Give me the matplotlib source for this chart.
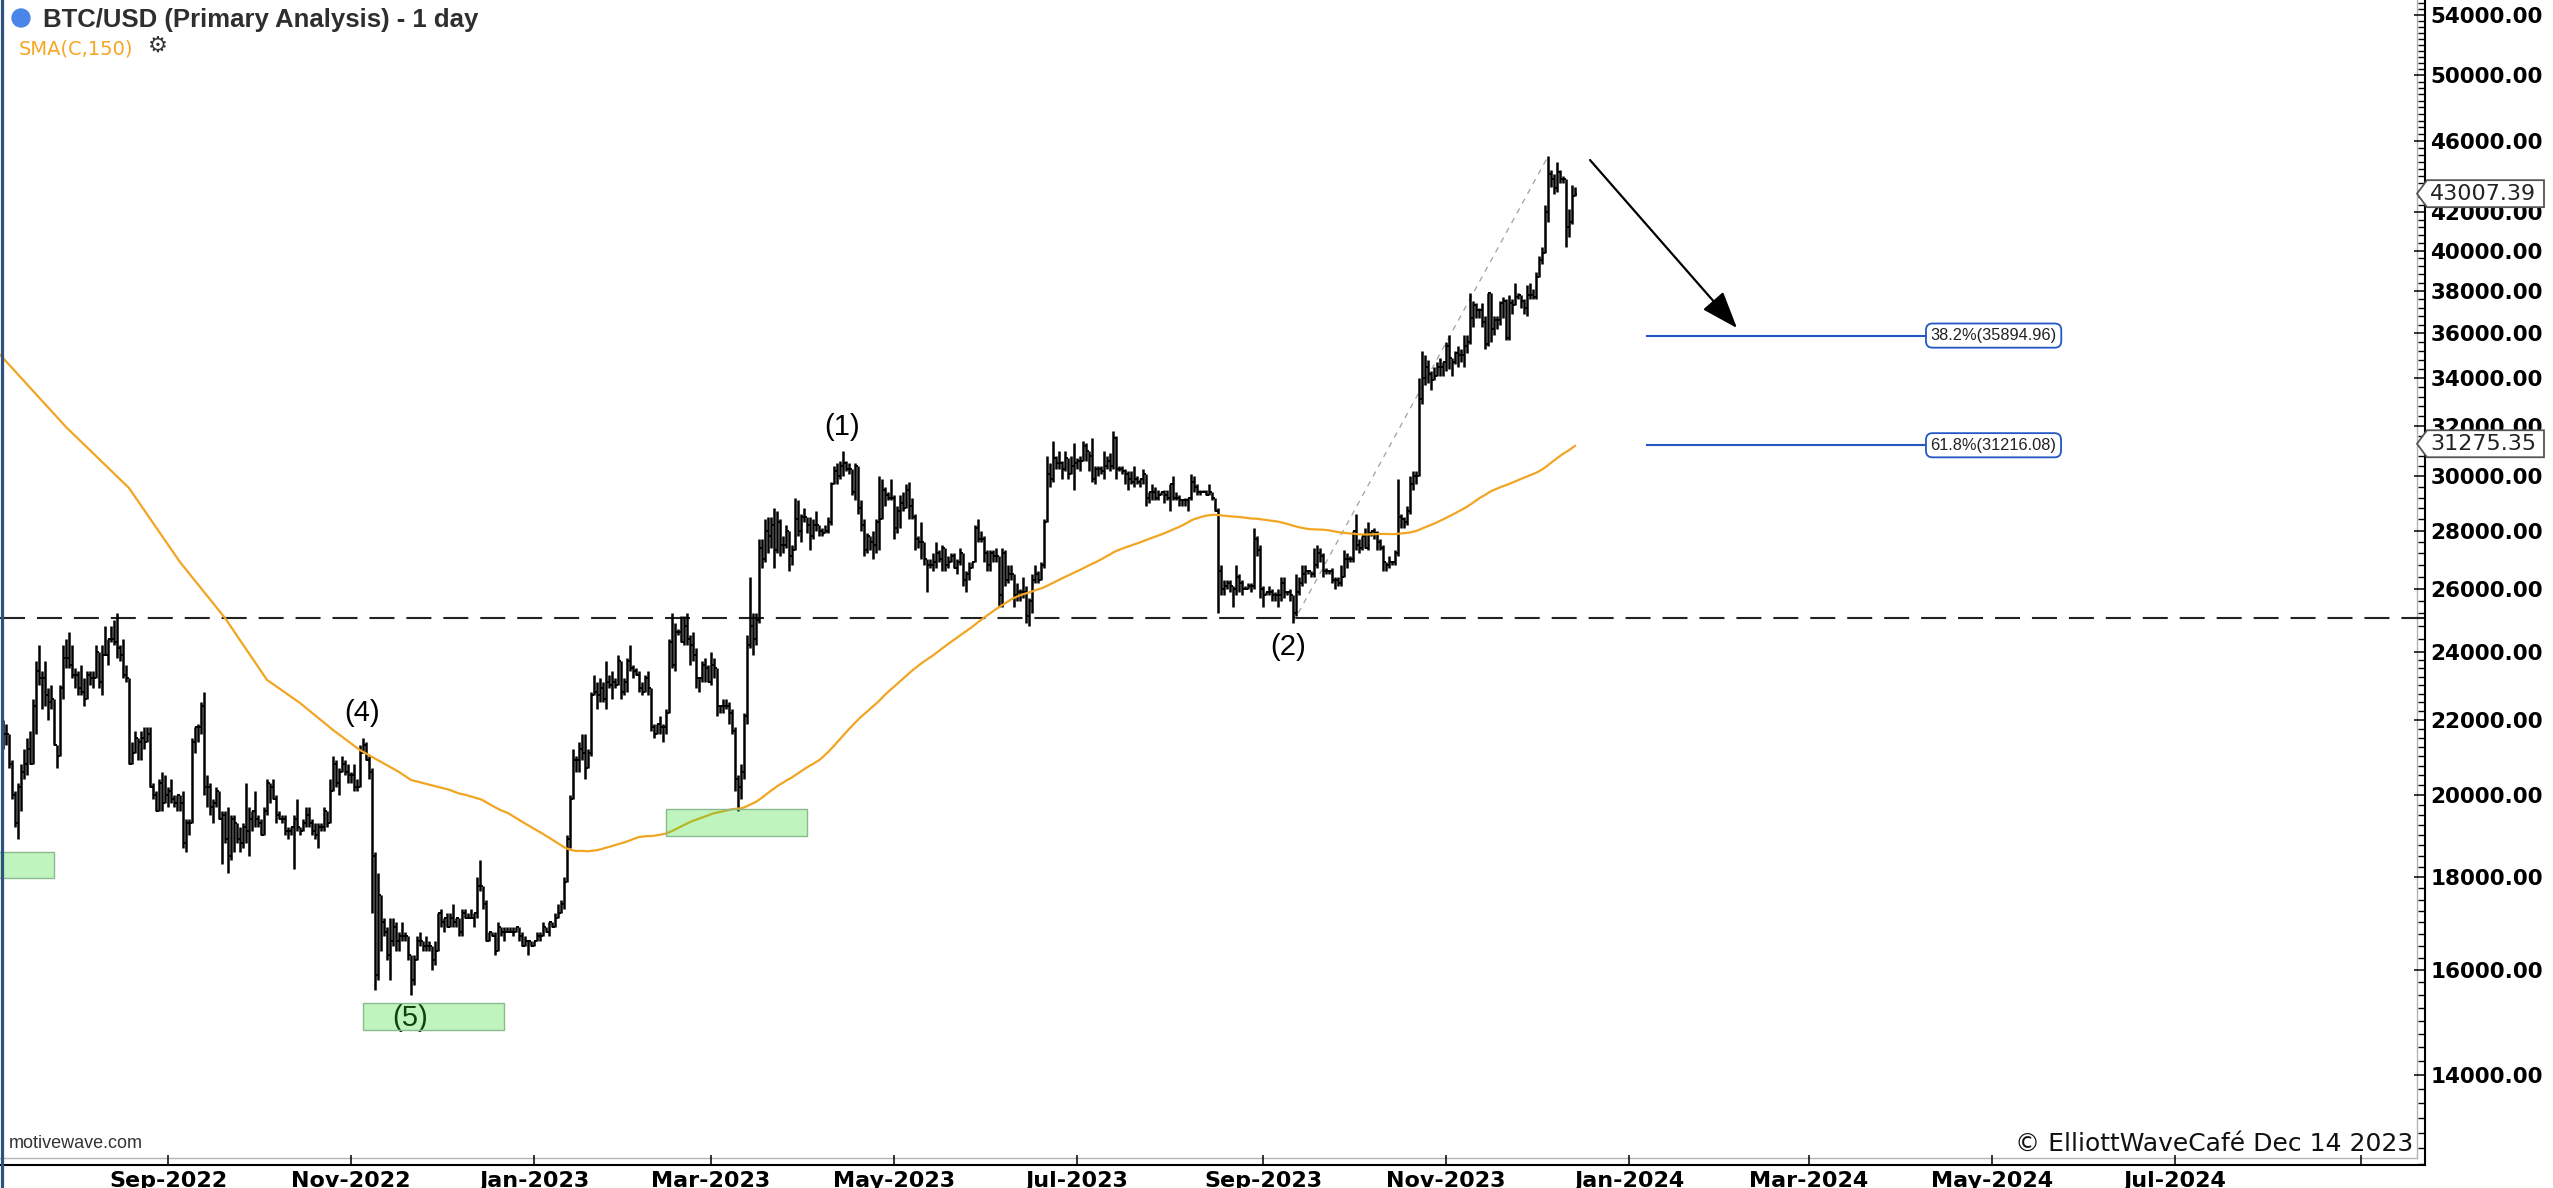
import matplotlib
matplotlib.use("Agg")
import matplotlib.pyplot as plt
import matplotlib.dates as mdates
from matplotlib.collections import LineCollection
from matplotlib.lines import Line2D
from matplotlib.patches import Rectangle, Polygon, Circle
from matplotlib.ticker import NullFormatter
from matplotlib.transforms import IdentityTransform
import numpy as np
import pandas as pd

W, H = 2553, 1188
plt.rcParams['lines.scale_dashes'] = False

# ---- daily BTC/USD bars, values in thousands of USD ----
first_day = "2022-07-08"
first_open = 21.6

close_k = [
    # Jul 2022 (from the 8th)
    21.6, 21.6, 20.8, 20.0, 19.3, 20.2, 20.6, 20.8, 21.2, 20.8, 22.4, 23.4, 23.2, 23.2, 22.7, 22.5, 22.6, 21.3, 21.0, 22.9, 23.8, 23.8, 23.6, 23.3,
    # Aug 2022
    23.3, 22.9, 22.8, 22.6, 23.3, 23.2, 23.2, 24.0, 23.1, 23.9, 23.9, 24.4, 24.4, 24.3, 24.1, 23.9, 23.3, 23.2, 20.8, 21.1, 21.5, 21.4, 21.5, 21.4, 21.6, 20.2, 20.0, 19.6, 20.3, 19.8, 20.0,
    # Sep 2022
    20.1, 19.9, 19.8, 20.0, 19.8, 18.8, 19.3, 19.3, 21.4, 21.8, 21.8, 22.4, 20.2, 20.2, 19.7, 19.8, 20.1, 19.4, 19.5, 18.9, 18.5, 19.4, 19.3, 18.9, 18.8, 19.2, 19.1, 19.4, 19.6, 19.4,
    # Oct 2022
    19.3, 19.0, 19.6, 20.3, 20.2, 19.9, 19.5, 19.4, 19.4, 19.1, 19.1, 19.2, 19.4, 19.2, 19.1, 19.3, 19.5, 19.3, 19.1, 19.0, 19.2, 19.2, 19.6, 19.3, 20.1, 20.8, 20.3, 20.6, 20.8, 20.6, 20.5,
    # Nov 2022
    20.5, 20.2, 20.2, 21.1, 21.3, 20.9, 20.6, 18.5, 15.9, 17.6, 17.0, 16.8, 16.3, 16.6, 16.9, 16.6, 16.7, 16.7, 16.7, 16.3, 15.8, 16.2, 16.6, 16.6, 16.5, 16.5, 16.5, 16.2, 16.4, 17.2,
    # Dec 2022
    17.0, 17.1, 16.9, 17.1, 17.0, 17.1, 16.8, 17.2, 17.1, 17.1, 17.1, 17.2, 17.8, 17.8, 17.4, 16.6, 16.8, 16.7, 16.4, 16.9, 16.8, 16.8, 16.8, 16.8, 16.8, 16.9, 16.7, 16.5, 16.6, 16.6, 16.5,
    # Jan 2023
    16.6, 16.7, 16.7, 16.9, 16.8, 17.0, 16.9, 17.1, 17.2, 17.4, 17.9, 18.9, 19.9, 20.9, 20.9, 21.2, 21.1, 20.7, 21.1, 22.7, 22.8, 22.7, 22.9, 22.6, 23.1, 23.0, 23.1, 23.0, 23.7, 22.8, 23.1,
    # Feb 2023
    23.7, 23.5, 23.4, 23.3, 22.9, 22.8, 23.2, 22.9, 21.8, 21.6, 21.9, 21.8, 21.8, 22.2, 24.3, 23.6, 24.6, 24.6, 24.3, 24.8, 24.4, 24.2, 23.9, 23.2, 23.2, 23.6, 23.5, 23.1,
    # Mar 2023
    23.6, 23.5, 22.4, 22.4, 22.4, 22.4, 22.2, 21.7, 20.4, 20.2, 20.6, 22.1, 24.2, 24.8, 24.4, 25.0, 27.4, 27.0, 28.0, 27.8, 28.2, 27.3, 28.3, 27.5, 27.5, 28.0, 27.1, 27.3, 28.4, 28.0, 28.5,
    # Apr 2023
    28.5, 28.2, 27.8, 28.2, 28.2, 28.0, 27.9, 28.0, 28.3, 29.7, 30.2, 30.0, 30.4, 30.5, 30.3, 30.3, 29.4, 30.4, 28.8, 28.2, 27.3, 27.8, 27.6, 27.5, 28.3, 28.4, 29.5, 29.3, 29.2, 29.2,
    # May 2023
    28.1, 28.7, 29.0, 28.8, 29.5, 28.9, 28.5, 27.7, 27.6, 27.6, 27.0, 26.8, 26.8, 26.9, 27.2, 27.0, 27.4, 26.8, 26.9, 27.1, 26.7, 26.9, 27.2, 26.3, 26.5, 26.7, 26.9, 28.1, 27.7, 27.7, 27.2,
    # Jun 2023
    26.8, 27.2, 27.1, 27.1, 25.8, 27.2, 26.3, 26.5, 26.5, 25.8, 25.9, 25.9, 25.9, 25.1, 25.6, 26.3, 26.5, 26.3, 26.8, 28.3, 30.1, 29.9, 30.7, 30.5, 30.5, 30.3, 30.7, 30.1, 30.4, 30.5,
    # Jul 2023
    30.6, 30.6, 31.2, 31.0, 30.8, 29.9, 30.3, 30.3, 30.2, 30.4, 30.6, 30.4, 31.5, 30.3, 30.3, 30.2, 30.1, 29.9, 29.8, 29.9, 29.8, 29.9, 30.1, 29.2, 29.4, 29.4, 29.2, 29.3, 29.4, 29.3, 29.2,
    # Aug 2023
    29.7, 29.2, 29.2, 29.1, 29.1, 29.1, 29.2, 29.8, 29.6, 29.4, 29.4, 29.4, 29.3, 29.4, 29.2, 28.7, 26.6, 26.0, 26.1, 26.2, 26.1, 26.0, 26.4, 26.2, 26.0, 26.0, 26.1, 26.1, 27.7, 27.3, 26.0,
    # Sep 2023
    25.8, 25.9, 25.9, 25.8, 25.8, 25.8, 26.2, 25.9, 25.9, 25.8, 25.2, 25.9, 26.2, 26.5, 26.6, 26.6, 26.5, 26.8, 27.2, 27.1, 26.6, 26.6, 26.6, 26.3, 26.3, 26.2, 26.4, 27.0, 27.0, 27.0,
    # Oct 2023
    28.0, 27.5, 27.4, 27.8, 27.4, 27.9, 28.0, 27.9, 27.6, 27.4, 26.9, 26.8, 26.9, 26.9, 27.2, 28.5, 28.4, 28.3, 28.7, 29.7, 30.0, 30.0, 33.1, 34.0, 34.5, 34.2, 33.9, 34.1, 34.5, 34.5, 34.7,
    # Nov 2023
    35.4, 34.9, 34.7, 35.1, 35.0, 35.0, 35.4, 35.6, 36.7, 37.3, 37.1, 37.1, 36.5, 35.5, 37.9, 36.2, 36.6, 36.6, 37.4, 37.5, 35.8, 37.4, 37.3, 37.7, 37.8, 37.5, 37.2, 37.8, 37.8, 37.7,
    # Dec 2023 (to the 14th)
    38.7, 39.5, 39.9, 42.0, 44.1, 43.8, 43.3, 44.2, 43.8, 43.8, 41.2, 41.5, 42.9, 43.007,
]

high_k = [
    22.0, 21.9, 21.6, 20.9, 20.1, 20.3, 20.8, 21.2, 21.5, 21.7, 22.6, 23.7, 24.2, 23.4, 23.7, 22.9, 23.0, 22.6, 21.3, 23.0, 24.2, 24.4, 24.6, 24.2,
    23.5, 23.4, 23.6, 23.2, 23.4, 23.4, 23.4, 24.2, 24.0, 24.2, 24.8, 24.4, 24.8, 25.0, 25.2, 24.2, 24.4, 23.6, 23.2, 21.4, 21.7, 21.5, 21.7, 21.8, 21.8, 21.8, 20.3, 20.1, 20.4, 20.6, 20.5,
    20.2, 20.4, 20.0, 20.0, 20.0, 20.1, 19.4, 19.4, 21.5, 21.8, 21.9, 22.5, 22.8, 20.5, 20.3, 19.9, 20.2, 20.1, 19.6, 19.6, 19.7, 19.5, 19.5, 19.3, 19.2, 19.3, 20.3, 19.7, 19.6, 20.1,
    19.5, 19.4, 19.7, 20.4, 20.3, 20.4, 20.0, 19.6, 19.5, 19.5, 19.2, 19.2, 19.5, 19.9, 19.2, 19.4, 19.7, 19.7, 19.4, 19.3, 19.3, 19.3, 19.7, 19.6, 20.4, 21.0, 20.9, 20.7, 21.0, 20.9, 20.8,
    20.6, 20.8, 20.4, 21.3, 21.5, 21.4, 21.0, 20.7, 18.6, 18.1, 17.6, 17.1, 16.9, 17.1, 17.1, 17.0, 16.8, 17.0, 16.8, 16.7, 16.3, 16.3, 16.7, 16.8, 16.6, 16.7, 16.6, 16.5, 16.6, 17.2,
    17.3, 17.1, 17.2, 17.2, 17.4, 17.1, 17.1, 17.3, 17.3, 17.2, 17.3, 17.2, 18.0, 18.4, 17.8, 17.5, 16.8, 16.8, 16.8, 17.0, 16.9, 16.9, 16.9, 16.9, 16.9, 16.9, 16.9, 16.8, 16.7, 16.6, 16.6,
    16.6, 16.8, 16.8, 17.0, 16.9, 17.0, 17.0, 17.2, 17.4, 17.5, 18.0, 19.0, 20.0, 21.2, 21.0, 21.4, 21.6, 21.6, 21.2, 22.8, 23.3, 23.1, 23.2, 23.1, 23.7, 23.3, 23.4, 23.2, 23.9, 23.7, 23.2,
    23.8, 24.2, 23.6, 23.5, 23.4, 23.1, 23.3, 23.4, 22.9, 21.9, 21.9, 22.1, 21.9, 22.3, 24.4, 25.2, 24.9, 24.7, 25.1, 25.1, 25.2, 24.5, 24.6, 24.1, 23.2, 23.7, 23.8, 23.6,
    24.0, 23.8, 23.5, 22.4, 22.6, 22.6, 22.5, 22.3, 21.8, 20.5, 20.8, 22.2, 24.5, 26.4, 25.2, 25.2, 27.7, 27.7, 28.4, 28.5, 28.5, 28.8, 28.7, 28.4, 27.8, 28.2, 28.0, 27.5, 29.2, 29.1, 28.6,
    28.8, 28.5, 28.5, 28.4, 28.7, 28.2, 28.1, 28.2, 28.5, 29.8, 30.4, 30.5, 30.6, 31.0, 30.6, 30.5, 30.3, 30.5, 30.4, 29.1, 28.4, 27.9, 27.8, 28.0, 28.4, 30.0, 29.9, 29.6, 29.4, 29.9,
    29.3, 28.9, 29.3, 29.4, 29.7, 29.8, 29.2, 28.6, 27.8, 28.3, 27.6, 27.0, 27.0, 27.2, 27.6, 27.3, 27.5, 27.4, 27.1, 27.2, 27.2, 27.0, 27.4, 27.2, 26.6, 26.9, 26.9, 28.2, 28.4, 28.0, 27.8,
    27.3, 27.3, 27.3, 27.4, 27.1, 27.4, 27.3, 26.8, 26.8, 26.5, 26.2, 26.0, 26.4, 26.1, 25.7, 26.5, 26.8, 26.6, 26.9, 28.4, 30.8, 30.5, 31.4, 30.8, 31.0, 30.6, 31.0, 30.7, 30.8, 31.3,
    30.7, 30.8, 31.4, 31.3, 31.0, 31.5, 30.4, 30.4, 30.4, 31.0, 30.8, 30.9, 31.8, 31.6, 30.4, 30.4, 30.3, 30.2, 30.2, 30.4, 30.0, 29.9, 30.3, 30.1, 29.4, 29.7, 29.6, 29.5, 29.4, 29.5, 29.5,
    29.7, 30.0, 29.4, 29.3, 29.1, 29.2, 29.2, 30.1, 30.0, 29.7, 29.5, 29.5, 29.5, 29.7, 29.4, 29.2, 28.8, 26.8, 26.3, 26.3, 26.3, 26.1, 26.8, 26.5, 26.3, 26.1, 26.2, 26.2, 28.1, 27.8, 27.5,
    26.1, 25.9, 26.1, 26.0, 25.9, 26.0, 26.4, 26.4, 25.9, 26.0, 25.8, 26.5, 26.4, 26.8, 26.8, 26.6, 26.6, 27.4, 27.5, 27.4, 27.2, 26.7, 26.6, 26.7, 26.4, 26.4, 26.8, 27.3, 27.2, 27.1,
    28.0, 28.6, 27.7, 27.8, 28.1, 28.3, 28.0, 28.1, 28.0, 27.7, 27.5, 26.9, 27.1, 26.9, 27.3, 29.9, 28.6, 28.5, 28.9, 30.0, 30.2, 30.2, 34.0, 35.2, 35.0, 34.8, 34.3, 34.5, 34.7, 34.9, 34.7,
    35.6, 35.9, 34.9, 35.2, 35.4, 35.3, 35.9, 35.9, 37.9, 37.5, 37.4, 37.2, 37.4, 36.8, 37.9, 37.9, 36.8, 36.8, 37.5, 37.7, 37.6, 37.8, 37.6, 38.4, 37.9, 37.8, 37.6, 38.3, 38.4, 38.1,
    38.9, 39.7, 40.2, 42.4, 45.1, 44.3, 44.1, 44.8, 44.3, 44.0, 43.8, 42.2, 43.5, 43.4,
]

low_k = [
    21.2, 21.3, 20.7, 19.9, 19.2, 18.9, 19.6, 20.4, 20.5, 20.8, 20.8, 21.6, 23.0, 22.3, 22.4, 22.0, 22.3, 21.3, 20.7, 21.0, 22.6, 23.5, 23.5, 23.2,
    22.9, 22.7, 22.7, 22.4, 22.6, 23.0, 22.9, 23.2, 22.9, 22.7, 23.9, 23.6, 24.3, 24.2, 23.8, 23.7, 23.2, 23.1, 20.8, 20.8, 21.1, 20.9, 20.9, 21.2, 21.4, 20.2, 19.9, 19.6, 19.6, 19.6, 19.9,
    19.7, 19.8, 19.7, 19.6, 19.6, 18.7, 18.6, 19.0, 19.3, 21.1, 21.4, 21.6, 20.0, 19.7, 19.5, 19.3, 19.7, 19.4, 18.3, 18.8, 18.1, 18.4, 18.6, 18.8, 18.6, 18.7, 18.8, 18.5, 19.1, 19.2,
    19.2, 19.0, 19.0, 19.5, 19.8, 19.9, 19.3, 19.4, 19.3, 19.0, 18.9, 19.0, 18.2, 19.1, 19.0, 19.1, 19.2, 19.2, 19.0, 18.9, 18.7, 19.1, 19.1, 19.2, 19.3, 20.1, 20.2, 20.0, 20.6, 20.5, 20.3,
    20.3, 20.1, 20.1, 20.2, 21.1, 20.9, 20.4, 17.2, 15.6, 15.8, 16.4, 16.7, 16.2, 15.8, 16.5, 16.4, 16.4, 16.6, 16.6, 16.2, 15.5, 15.7, 16.2, 16.5, 16.4, 16.4, 16.4, 16.0, 16.1, 16.4,
    16.9, 16.8, 16.9, 16.9, 16.9, 16.9, 16.7, 16.7, 17.1, 17.1, 17.1, 16.9, 17.1, 17.7, 17.3, 16.6, 16.6, 16.7, 16.3, 16.4, 16.7, 16.6, 16.8, 16.8, 16.7, 16.8, 16.6, 16.5, 16.5, 16.3, 16.5,
    16.5, 16.6, 16.6, 16.7, 16.8, 16.7, 16.9, 16.9, 17.1, 17.2, 17.3, 17.9, 18.7, 19.9, 20.6, 20.6, 20.9, 20.4, 20.7, 21.0, 22.7, 22.3, 22.5, 22.5, 22.3, 22.9, 22.6, 22.9, 23.0, 22.6, 22.7,
    22.8, 23.4, 23.2, 23.3, 22.8, 22.7, 22.8, 22.7, 21.7, 21.5, 21.6, 21.6, 21.4, 21.6, 22.2, 23.5, 23.4, 24.5, 24.3, 24.2, 24.2, 23.6, 23.7, 22.9, 22.8, 23.1, 23.1, 23.1,
    23.0, 23.2, 22.1, 22.2, 22.2, 22.3, 21.9, 21.6, 20.1, 19.6, 19.9, 20.4, 21.9, 24.1, 23.9, 24.2, 24.9, 26.7, 26.9, 27.2, 27.4, 26.7, 27.2, 27.1, 27.2, 27.4, 26.6, 26.8, 27.3, 27.8, 27.6,
    28.3, 27.9, 27.3, 27.7, 28.0, 27.8, 27.8, 27.9, 27.9, 28.2, 29.7, 29.7, 29.9, 30.0, 30.2, 30.1, 29.3, 29.1, 28.6, 28.0, 27.1, 27.2, 27.3, 27.0, 27.2, 27.3, 28.4, 28.9, 29.1, 29.1,
    27.7, 27.9, 28.1, 28.7, 28.8, 28.4, 28.4, 27.3, 27.4, 27.0, 26.8, 25.9, 26.7, 26.6, 26.7, 26.9, 26.6, 26.6, 26.7, 26.9, 26.7, 26.5, 26.8, 26.1, 25.9, 26.3, 26.7, 26.9, 27.6, 27.6, 26.9,
    26.6, 26.6, 26.9, 26.9, 25.4, 25.4, 26.1, 26.2, 26.3, 25.4, 25.6, 25.6, 25.7, 24.9, 24.8, 25.2, 26.2, 26.2, 26.3, 26.7, 28.3, 29.6, 29.8, 30.3, 30.3, 29.9, 30.2, 29.9, 30.1, 29.5,
    30.3, 30.2, 30.6, 30.6, 30.2, 29.8, 29.7, 30.0, 30.1, 29.9, 30.3, 30.2, 30.3, 29.9, 30.2, 30.1, 29.7, 29.5, 29.7, 29.6, 29.7, 29.6, 29.7, 28.9, 29.0, 29.1, 29.1, 29.1, 29.3, 29.0, 29.1,
    28.7, 29.1, 29.1, 28.9, 28.9, 28.9, 28.7, 29.1, 29.4, 29.3, 29.3, 29.4, 29.3, 29.3, 29.1, 28.7, 25.2, 25.8, 25.8, 26.0, 25.9, 25.4, 25.8, 25.9, 25.8, 26.0, 26.0, 25.9, 26.0, 27.1, 25.7,
    25.4, 25.8, 25.8, 25.6, 25.6, 25.4, 25.6, 25.7, 25.8, 25.6, 24.9, 25.1, 25.8, 26.1, 26.2, 26.5, 26.4, 26.4, 26.7, 26.9, 26.4, 26.5, 26.5, 26.2, 26.0, 26.1, 26.1, 26.4, 26.7, 26.9,
    26.9, 27.3, 27.2, 27.3, 27.4, 27.3, 27.8, 27.7, 27.3, 27.3, 26.6, 26.6, 26.7, 26.8, 26.8, 27.1, 28.1, 28.1, 28.2, 28.6, 29.5, 29.7, 30.0, 32.9, 33.7, 33.8, 33.5, 33.9, 34.1, 34.1, 34.1,
    34.3, 34.4, 34.1, 34.6, 34.5, 34.7, 34.5, 35.1, 35.5, 36.3, 36.7, 36.7, 36.3, 35.3, 35.4, 35.6, 35.9, 36.2, 36.4, 36.7, 35.7, 35.7, 36.9, 37.3, 37.6, 37.2, 36.9, 36.8, 37.6, 37.6,
    37.6, 38.7, 39.3, 39.9, 41.5, 43.4, 43.0, 43.1, 43.6, 43.6, 40.2, 40.7, 41.4, 42.9,
]

sma_read_dates = ["2022-07-07", "2022-07-29", "2022-08-19", "2022-09-05", "2022-09-20",
                  "2022-10-04", "2022-10-15", "2022-10-26", "2022-11-04", "2022-11-17", "2022-11-21"]
sma_read_vals = [35030, 31950, 29560, 26900, 25050, 23150, 22480, 21720, 21170, 20590, 20380]
sma_len = 150

resist_level = 25050

zone_start = ["2022-07-01", "2022-11-05", "2023-02-14"]
zone_end = ["2022-07-25", "2022-12-22", "2023-04-02"]
zone_low = [17990, 14820, 18970]
zone_high = [18590, 15340, 19640]

wave_text = ["(4)", "(5)", "(1)", "(2)"]
wave_date = ["2022-11-04 16:00", "2022-11-20 16:00", "2023-04-13 16:00", "2023-09-09 08:00"]
wave_price = [22190, 15050, 31950, 24140]

fib_text = ["38.2%", "61.8%"]
fib_price = [35894.96, 31216.08]
fib_start = "2024-01-07"
fib_end = "2024-04-08 16:00"

arrow_from = ("2023-12-19", 44890)
arrow_to = ("2024-02-06", 36240)

last_price = 43007.39
sma_last = 31275.35

y_major = [14000, 16000, 18000, 20000, 22000, 24000, 26000, 28000, 30000,
           32000, 34000, 36000, 38000, 40000, 42000, 46000, 50000, 54000]
x_tick_dates = ["2022-09-01", "2022-11-01", "2023-01-01", "2023-03-01", "2023-05-01",
                "2023-07-01", "2023-09-01", "2023-11-01", "2024-01-01", "2024-03-01",
                "2024-05-01", "2024-07-01", "2024-09-01"]
x_tick_labels = ["Sep-2022", "Nov-2022", "Jan-2023", "Mar-2023", "May-2023", "Jul-2023",
                 "Sep-2023", "Nov-2023", "Jan-2024", "Mar-2024", "May-2024", "Jul-2024", ""]

# ---- build ----
dates = pd.date_range(first_day, periods=len(close_k), freq="D")
xd = mdates.date2num(dates)
c = np.array(close_k) * 1000
o = np.concatenate([[first_open], close_k[:-1]]) * 1000
hi = np.maximum(np.array(high_k) * 1000, np.maximum(o, c))
lo = np.minimum(np.array(low_k) * 1000, np.minimum(o, c))

fig = plt.figure(figsize=(W / 100, H / 100), dpi=100)
ax = fig.add_axes([0, 23 / H, 2425 / W, 1165 / H])

sep1 = mdates.datestr2num("2022-09-01")
ax.set_xlim(sep1 - 56, sep1 + 752.33)
ax.set_yscale("log")
ax.set_ylim(12480, 55040)

# OHLC bars
vert = [[(x, l), (x, h)] for x, l, h in zip(xd, lo, hi)]
ticks = [[(x - 0.65, v), (x, v)] for x, v in zip(xd, o)] + \
        [[(x, v), (x + 0.65, v)] for x, v in zip(xd, c)]
ax.add_collection(LineCollection(vert, colors="black", linewidths=1.8, zorder=3))
ax.add_collection(LineCollection(ticks, colors="black", linewidths=1.4, zorder=3))

# SMA(C,150)
sma = pd.Series(c, index=dates).rolling(sma_len).mean().dropna()
sma_x = np.concatenate([mdates.datestr2num(sma_read_dates), mdates.date2num(sma.index)])
sma_y = np.concatenate([sma_read_vals, sma.values])
ax.plot(sma_x, sma_y, color="#f2a522", lw=1.6, zorder=4)

# resistance
ax.axhline(resist_level, color="#222222", lw=1.5, dashes=(18, 8.6), zorder=2)

# wave (2) -> peak dotted line
i2 = int(np.argmin(np.where(dates >= "2023-09-01", lo, np.inf)))
ip = int(np.argmax(hi))
ax.plot([xd[i2], xd[ip]], [lo[i2], hi[ip]], color="#a0a0a0", lw=0.9, dashes=(4, 4), zorder=2)

# wave labels
for t, d, p in zip(wave_text, wave_date, wave_price):
    ax.text(mdates.datestr2num(d), p, t, ha="center", va="center", fontsize=21,
            family="Liberation Sans", color="black", zorder=4)

# green zones
for s, e, zl, zh in zip(zone_start, zone_end, zone_low, zone_high):
    x0 = mdates.datestr2num(s)
    ax.add_patch(Rectangle((x0, zl), mdates.datestr2num(e) - x0, zh - zl,
                           facecolor=(0.2, 0.87, 0.2, 0.31), edgecolor="#8cba8c", lw=1, zorder=5))

# fib levels
fs, fe = mdates.datestr2num(fib_start), mdates.datestr2num(fib_end)
for t, p in zip(fib_text, fib_price):
    ax.plot([fs, fe], [p, p], color="#2456c4", lw=1.5, zorder=3)
    ax.annotate(f"{t}({p:.2f})", xy=(fe, p), xytext=(4, 0), textcoords="offset points",
                ha="left", va="center", fontsize=11.8, family="Liberation Sans", color="#222222",
                bbox=dict(boxstyle="round,pad=0.28,rounding_size=0.4", fc="white",
                          ec="#2456c4", lw=1.3), zorder=6)

# projection arrow
ax.annotate("", xy=(mdates.datestr2num(arrow_to[0]), arrow_to[1]),
            xytext=(mdates.datestr2num(arrow_from[0]), arrow_from[1]),
            arrowprops=dict(arrowstyle="-|>,head_length=1.15,head_width=0.42", lw=1.6,
                            color="black", mutation_scale=20, shrinkA=0, shrinkB=0), zorder=6)

# axes styling
for side in ["top", "left"]:
    ax.spines[side].set_visible(False)
for side in ["right", "bottom"]:
    ax.spines[side].set_color("black")
    ax.spines[side].set_linewidth(1.5)

ax.yaxis.set_ticks_position("right")
ax.set_yticks(y_major, labels=[f"{v:.2f}" for v in y_major], fontweight="bold", fontsize=15.5)
minor = [v for v in np.arange(12500, 24000, 250)] + [v for v in np.arange(24000, 55000, 400)]
ax.set_yticks([v for v in minor if v not in y_major], minor=True)
ax.yaxis.set_minor_formatter(NullFormatter())
ax.tick_params(axis="y", which="major", direction="in", length=8, width=1.1, pad=4, colors="black")
ax.tick_params(axis="y", which="minor", direction="in", length=5, width=1.0)

ax.set_xticks(mdates.datestr2num(x_tick_dates), labels=x_tick_labels, fontweight="bold", fontsize=16)
ax.tick_params(axis="x", which="major", direction="in", length=7, width=1.1, pad=4)
ax.tick_params(axis="x", which="minor", bottom=False)

# inner grey frame lines
ax.plot([0, 2417 / 2425], [7 / 1165, 7 / 1165], transform=ax.transAxes, color="#b4b4b4",
        lw=1, clip_on=False, zorder=1)
ax.plot([2417 / 2425, 2417 / 2425], [7 / 1165, 1], transform=ax.transAxes, color="#b4b4b4",
        lw=1, clip_on=False, zorder=1)

# left window border
fig.add_artist(Line2D([1.5, 1.5], [0, H], transform=IdentityTransform(), color="#2d5180", lw=2.3))

# header texts
fig.add_artist(Circle((21, H - 18), 9, transform=IdentityTransform(), color="#4a86e8"))
fig.text(43 / W, 1 - 20 / H, "BTC/USD (Primary Analysis) - 1 day", fontsize=18.5,
         family="Liberation Sans", fontweight="bold", color="#2e2e2e", ha="left", va="center")
fig.text(19 / W, 1 - 49 / H, "SMA(C,150)", fontsize=14, color="#f5a623", ha="left", va="center")
fig.text(148 / W, 1 - 46 / H, "\u2699", fontsize=16, color="#333333", ha="left", va="center",
         fontweight="bold")

fig.text(9 / W, 1 - 1144 / H, "motivewave.com", fontsize=13, family="Liberation Sans",
         color="#333333", ha="left", va="center")
fig.text(2413 / W, 1 - 1144 / H, "\u00a9 ElliottWaveCaf\u00e9 Dec 14 2023", fontsize=18,
         color="#111111", ha="right", va="center")


# right-axis price tags
def price_tag(value):
    yc = ax.transData.transform((xd[0], value))[1]
    pts = [(2417, yc), (2427, yc + 13.5), (2544, yc + 13.5), (2544, yc - 13.5), (2427, yc - 13.5)]
    fig.add_artist(Polygon(pts, closed=True, transform=IdentityTransform(), fc="white",
                           ec="#555555", lw=1.3, zorder=10))
    fig.text(2430 / W, yc / H, f"{value:.2f}", ha="left", va="center", fontsize=16,
             color="#222222", zorder=11)


price_tag(last_price)
price_tag(sma_last)

fig.savefig("out.png", dpi=100, facecolor="white")
